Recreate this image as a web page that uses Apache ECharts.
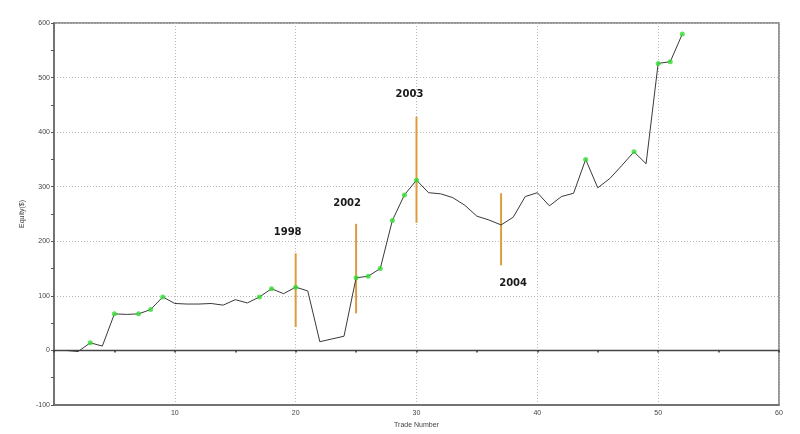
<!DOCTYPE html>
<html><head><meta charset="utf-8">
<script src="https://cdn.jsdelivr.net/npm/echarts@6/dist/echarts.min.js"></script>
<style>html,body{margin:0;padding:0;background:#fff}#c{width:800px;height:434px}</style>
</head><body><div id="c"></div>
<script>
// ---- data ----
const trades = [1,2,3,4,5,6,7,8,9,10,11,12,13,14,15,16,17,18,19,20,21,22,23,24,25,26,27,28,29,30,31,32,33,34,35,36,37,38,39,40,41,42,43,44,45,46,47,48,49,50,51,52];
const equity = [0,-2,14,8,67,66,67,75,98,86,85,85,86,83,93,87,98,113,104,116,109,16,21,26,133,136,150,238,285,312,289,287,280,266,246,239,230,244,282,289,265,282,288,350,298,315,339,364,342,526,529,580];
const newHighTrades = [3,5,7,8,9,17,18,20,25,26,27,28,29,30,44,48,50,51,52];
const yearTrades = [20,25,30,37];
const yearLabels = ['1998','2002','2003','2004'];
const yearHigh = [178,232,428,288];
const yearLow = [43,68,234,156];
const xAxisName = 'Trade Number';
const yAxisName = 'Equity($)';

// ---- styles for the year annotations (layout only) ----
const yearLabelStyle = {
  '1998': {side:'top', dx:-8, dy:-21},
  '2002': {side:'top', dx:-9, dy:-20},
  '2003': {side:'top', dx:-7, dy:-22},
  '2004': {side:'bottom', dx:12, dy:18}
};

const lineData = trades.map((t,i)=>[t, equity[i]]);
const highData = newHighTrades.map(t=>[t, equity[trades.indexOf(t)]]);
const yearData = yearTrades.map((t,i)=>[t, yearLow[i], yearHigh[i], yearLabels[i]]);

const chart = echarts.init(document.getElementById('c'));
const axisFont = {fontFamily:'Liberation Sans, Arial, sans-serif', fontSize:7, color:'#444'};
const gridDots = {type:[1,2], color:'#b8b8b8', width:1};
chart.setOption({
  animation:false,
  backgroundColor:'#fff',
  grid:{left:54, right:21, top:23, bottom:29, show:true, borderColor:'#777', borderWidth:1.5, backgroundColor:'transparent'},
  xAxis:[{
    type:'value', min:0, max:60, interval:10, position:'bottom',
    name:xAxisName, nameLocation:'middle', nameGap:16,
    nameTextStyle:axisFont,
    axisLine:{show:true, onZero:false, lineStyle:{color:'#666', width:1.5}},
    axisTick:{show:false},
    axisLabel:Object.assign({margin:5, formatter:v=> v===0?'':String(v)}, axisFont),
    splitLine:{show:true, lineStyle:gridDots}
  },{
    type:'value', min:0, max:60, interval:5, position:'bottom',
    axisLine:{show:true, onZero:true, lineStyle:{color:'#444', width:1.3}},
    axisTick:{show:true, length:2, lineStyle:{color:'#333', width:1.5}},
    axisLabel:{show:false},
    splitLine:{show:false}
  }],
  yAxis:{
    type:'value', min:-100, max:600, interval:100,
    name:yAxisName, nameLocation:'middle', nameGap:23, nameRotate:90,
    nameTextStyle:axisFont,
    axisLine:{show:true, lineStyle:{color:'#666', width:1.5}},
    axisTick:{show:true, length:3, lineStyle:{color:'#555'}},
    minorTick:{show:true, splitNumber:2, length:3, lineStyle:{color:'#555'}},
    axisLabel:Object.assign({margin:4}, axisFont),
    splitLine:{show:true, lineStyle:gridDots}
  },
  series:[{
    type:'custom', xAxisIndex:0, yAxisIndex:0, z:2,
    data:yearData,
    renderItem:function(params, api){
      const x = api.value(0);
      const lo = api.coord([x, api.value(1)]);
      const hi = api.coord([x, api.value(2)]);
      const lbl = yearData[params.dataIndex][3];
      const st = yearLabelStyle[lbl];
      const anchor = st.side==='top' ? hi : lo;
      return {type:'group', children:[
        {type:'line', shape:{x1:hi[0], y1:hi[1], x2:lo[0], y2:lo[1]}, style:{stroke:'#dc9c3c', lineWidth:2}},
        {type:'text', x:anchor[0]+st.dx, y:anchor[1]+st.dy,
          style:{text:lbl, fill:'#1a1a1a', font:'bold 10px "DejaVu Sans", sans-serif', align:'center', verticalAlign:'middle'}}
      ]};
    }
  },{
    type:'line', xAxisIndex:0, yAxisIndex:0, z:3,
    data:lineData, showSymbol:false, symbol:'none',
    lineStyle:{color:'#3a3a3a', width:1}
  },{
    type:'scatter', xAxisIndex:0, yAxisIndex:0, z:4,
    data:highData, symbol:'circle', symbolSize:5,
    itemStyle:{color:'#33dd33'}
  }]
});
</script></body></html>
